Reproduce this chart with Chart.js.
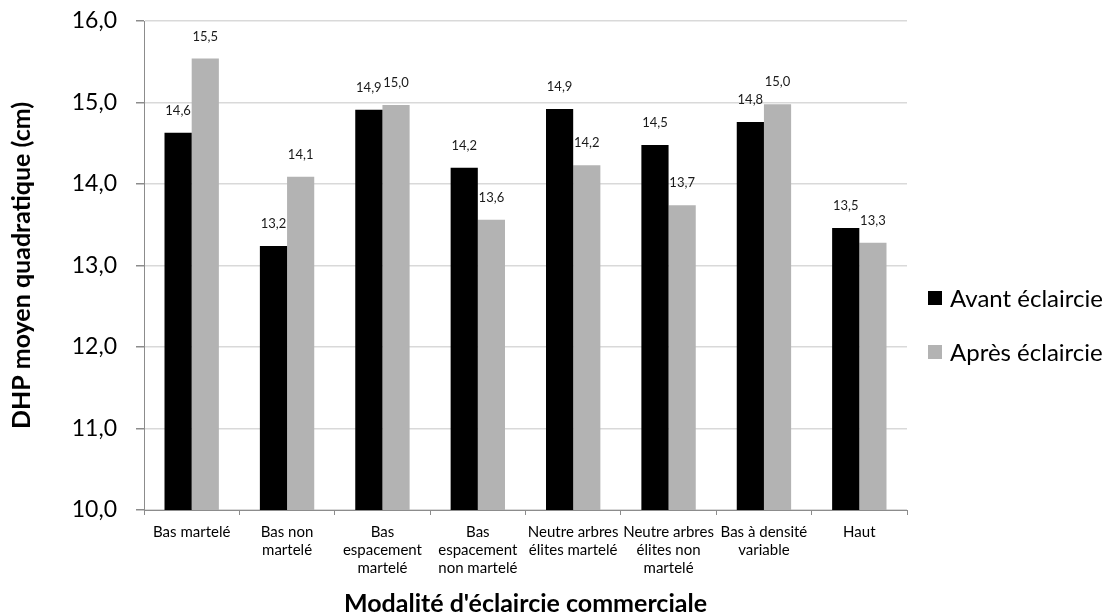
<!DOCTYPE html>
<html>
<head>
<meta charset="utf-8">
<script src="https://cdn.jsdelivr.net/npm/chart.js@4/dist/chart.umd.min.js"></script>
<style>
  html, body { margin: 0; padding: 0; background: #ffffff; }
  #wrap { width: 1107px; height: 616px; position: relative; }
</style>
</head>
<body>
<div id="wrap"><canvas id="chart" width="1107" height="616"></canvas></div>
<script>
// Modalités d'éclaircie commerciale (catégories de l'axe X)
const categories = [
  "Bas martelé",
  ["Bas non", "martelé"],
  ["Bas", "espacement", "martelé"],
  ["Bas", "espacement", "non martelé"],
  ["Neutre arbres", "élites martelé"],
  ["Neutre arbres", "élites non", "martelé"],
  ["Bas à densité", "variable"],
  "Haut"
];

// DHP moyen quadratique (cm)
const avantEclaircie = [14.63, 13.24, 14.91, 14.20, 14.92, 14.48, 14.76, 13.46];
const apresEclaircie = [15.54, 14.09, 14.97, 13.56, 14.23, 13.74, 14.98, 13.28];

const seriesNames = ["Avant éclaircie", "Après éclaircie"];
const seriesColors = ["#000000", "#b3b3b3"];

// Graduations de l'axe Y
const yMin = 10;
const yMax = 16;
const yStep = 1;

const FONT = "Lato, 'Open Sans', sans-serif";
const fmt = v => v.toFixed(1).replace(".", ",");

// Étiquettes de valeur au-dessus de chaque barre
const valueLabels = {
  id: "valueLabels",
  afterDatasetsDraw(chart) {
    const ctx = chart.ctx;
    ctx.save();
    ctx.font = "13px " + FONT;
    ctx.fillStyle = "#1a1a1a";
    ctx.textAlign = "center";
    ctx.textBaseline = "middle";
    chart.data.datasets.forEach((ds, i) => {
      chart.getDatasetMeta(i).data.forEach((bar, j) => {
        ctx.fillText(fmt(ds.data[j]), bar.x, bar.y - 22);
      });
    });
    ctx.restore();
  }
};

// Légende à droite du graphique
const sideLegend = {
  id: "sideLegend",
  afterDraw(chart) {
    const ctx = chart.ctx;
    ctx.save();
    ctx.font = "24px " + FONT;
    ctx.textBaseline = "middle";
    ctx.textAlign = "left";
    const x0 = chart.chartArea.right + 21;
    const ys = [298, 352];
    chart.data.datasets.forEach((ds, i) => {
      ctx.fillStyle = ds.backgroundColor;
      ctx.fillRect(x0, ys[i] - 7, 14, 14);
      ctx.fillStyle = "#000000";
      ctx.fillText(ds.label, x0 + 22, ys[i] + 1);
    });
    ctx.restore();
  }
};

new Chart(document.getElementById("chart"), {
  type: "bar",
  data: {
    labels: categories,
    datasets: [
      { label: seriesNames[0], data: avantEclaircie, backgroundColor: seriesColors[0] },
      { label: seriesNames[1], data: apresEclaircie, backgroundColor: seriesColors[1] }
    ]
  },
  options: {
    responsive: false,
    animation: false,
    devicePixelRatio: 1,
    layout: { padding: { top: 21, right: 200, bottom: 0, left: 0 } },
    datasets: {
      bar: { categoryPercentage: 0.57, barPercentage: 1.0 }
    },
    plugins: {
      legend: { display: false },
      tooltip: { enabled: false }
    },
    scales: {
      x: {
        grid: {
          display: true,
          drawOnChartArea: false,
          drawTicks: true,
          tickLength: 5,
          tickColor: "#8c8c8c",
          offset: true
        },
        border: { color: "#8c8c8c", width: 1 },
        ticks: {
          autoSkip: false,
          maxRotation: 0,
          minRotation: 0,
          padding: 8,
          color: "#000000",
          font: { family: FONT, size: 15, lineHeight: 1.2 }
        },
        title: {
          display: true,
          text: "Modalité d'éclaircie commerciale",
          color: "#000000",
          font: { family: FONT, size: 25, weight: "bold", lineHeight: 1.0 },
          padding: 0
        },
        afterFit(scale) { scale.height = 106; }
      },
      y: {
        min: yMin,
        max: yMax,
        grid: {
          color: "#d9d9d9",
          lineWidth: 1.5,
          drawTicks: true,
          tickLength: 8,
          tickColor: "#8c8c8c"
        },
        border: { color: "#8c8c8c", width: 1 },
        ticks: {
          stepSize: yStep,
          padding: 19,
          color: "#000000",
          font: { family: FONT, size: 23 },
          callback: v => fmt(v)
        },
        title: {
          display: true,
          text: "DHP moyen quadratique (cm)",
          color: "#000000",
          font: { family: FONT, size: 25, weight: "bold", lineHeight: 1.2 },
          padding: { top: 7, bottom: 0 }
        },
        afterFit(scale) {
          scale.width = 144;
          scale.paddingTop = 0;
          scale.paddingBottom = 0;
        }
      }
    }
  },
  plugins: [valueLabels, sideLegend]
});
</script>
</body>
</html>
